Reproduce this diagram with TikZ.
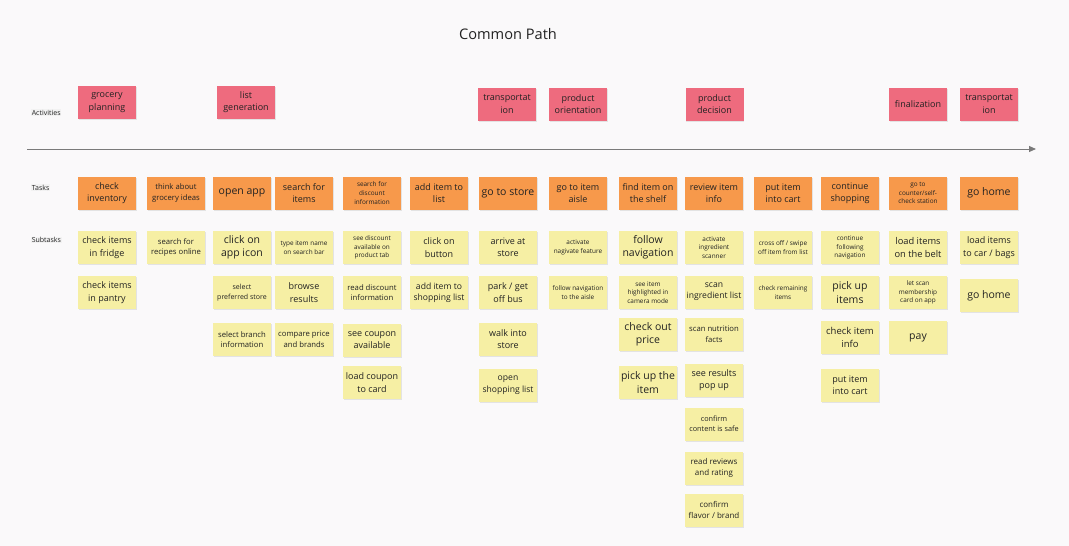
\documentclass[tikz,border=0pt]{standalone}
\usepackage{fontspec}
\setmainfont{Open Sans}
\usetikzlibrary{shadows,arrows.meta}
\definecolor{bgc}{HTML}{FAF9FA}
\definecolor{actc}{HTML}{EE6B7E}
\definecolor{taskc}{HTML}{F7994B}
\definecolor{subc}{HTML}{F6EFA4}
\definecolor{txt}{HTML}{222222}
\definecolor{axis}{HTML}{7A7A7A}
\tikzset{
  card/.style={minimum width=58pt, minimum height=33pt, inner sep=1pt, align=center, text=txt,
    drop shadow={shadow xshift=0.6pt, shadow yshift=-1.2pt, opacity=0.18}},
  act/.style={card, fill=actc},
  task/.style={card, fill=taskc},
  sub/.style={card, fill=subc},
  fS/.style={font=\fontsize{6.4}{8.6}\selectfont},
  fM/.style={font=\fontsize{7.7}{10.6}\selectfont},
  fL/.style={font=\fontsize{9}{12.4}\selectfont},
  fX/.style={font=\fontsize{10.5}{13.4}\selectfont},
  rowlabel/.style={font=\fontsize{7}{8}\selectfont, text=txt, fill=black!5, inner sep=0.6pt, anchor=west},
}
\begin{document}
\begin{tikzpicture}[x=1pt,y=-1pt]
\fill[bgc] (0,0) rectangle (1069,546);
\useasboundingbox (0,0) rectangle (1069,546);

\node[font=\fontsize{14.6}{16}\selectfont, text=txt] (title) at (508,34) {Common Path};

\node[rowlabel] (lact) at (31,112.5) {Activities};
\node[rowlabel] (ltask) at (31,187.5) {Tasks};
\node[rowlabel] (lsub) at (31,240) {Subtasks};

\coordinate (axstart) at (27,149);
\coordinate (axend) at (1036,149);
\draw[axis, line width=1pt, -{Triangle[length=7pt,width=6pt]}] (axstart) -- (axend);

% Activities
\node[act,fL] (a1) at (107,102.5) {grocery\\planning};
\node[act,fL] (a2) at (246,102) {list\\generation};
\node[act,fL] (a3) at (507,104) {transportat\\ion};
\node[act,fL] (a4) at (578,104) {product\\orientation};
\node[act,fL] (a5) at (714.5,104) {product\\decision};
\node[act,fL] (a6) at (918,104) {finalization};
\node[act,fL] (a7) at (989,104) {transportat\\ion};

% Tasks
\node[task,fL] (t1) at (107,193) {check\\inventory};
\node[task,fM] (t2) at (176,193) {think about\\grocery ideas};
\node[task,fX] (t3) at (242,193) {open app};
\node[task,fL] (t4) at (304,193) {search for\\items};
\node[task,fS] (t5) at (372,193) {search for\\discount\\information};
\node[task,fL] (t6) at (439,193) {add item to\\list};
\node[task,fX] (t7) at (508,193) {go to store};
\node[task,fL] (t8) at (578,193) {go to item\\aisle};
\node[task,fL] (t9) at (648,193) {find item on\\the shelf};
\node[task,fL] (t10) at (714,193) {review item\\info};
\node[task,fL] (t11) at (783,193) {put item\\into cart};
\node[task,fL] (t12) at (850,193) {continue\\shopping};
\node[task,fS] (t13) at (918,193) {go to\\counter/self-\\check station};
\node[task,fX] (t14) at (989,193) {go home};

% Subtasks column 1
\node[sub,fL] (s1a) at (107,247.5) {check items\\in fridge};
\node[sub,fL] (s1b) at (107,292.5) {check items\\in pantry};
% column 2
\node[sub,fM] (s2a) at (176,247.5) {search for\\recipes online};
% column 3
\node[sub,fX] (s3a) at (242,247.5) {click on\\app icon};
\node[sub,fS,font=\fontsize{7}{9.6}\selectfont] (s3b) at (242,292.5) {select\\preferred store};
\node[sub,fM] (s3c) at (242,339.5) {select branch\\information};
% column 4
\node[sub,fS] (s4a) at (304,247.5) {type item name\\on search bar};
\node[sub,fL] (s4b) at (304,292.5) {browse\\results};
\node[sub,fM] (s4c) at (304,339.5) {compare price\\and brands};
% column 5
\node[sub,fS] (s5a) at (372,247.5) {see discount\\available on\\product tab};
\node[sub,fM] (s5b) at (372,292.5) {read discount\\information};
\node[sub,fL] (s5c) at (372,340) {see coupon\\available};
\node[sub,fL] (s5d) at (372,382.5) {load coupon\\to card};
% column 6
\node[sub,fL] (s6a) at (439,247.5) {click on\\button};
\node[sub,fL,font=\fontsize{8.6}{11.4}\selectfont] (s6b) at (439,292.5) {add item to\\shopping list};
% column 7
\node[sub,fL] (s7a) at (508,247.5) {arrive at\\store};
\node[sub,fL] (s7b) at (508,292.5) {park / get\\off bus};
\node[sub,fL] (s7c) at (508,339) {walk into\\store};
\node[sub,fL,font=\fontsize{8.6}{11.4}\selectfont] (s7d) at (508,385) {open\\shopping list};
% column 8
\node[sub,fS] (s8a) at (578,247.5) {activate\\nagivate feature};
\node[sub,fS] (s8b) at (578,292.5) {follow navigation\\to the aisle};
% column 9
\node[sub,fX] (s9a) at (648,247.5) {follow\\navigation};
\node[sub,fS] (s9b) at (648,292.5) {see item\\highlighted in\\camera mode};
\node[sub,fX] (s9c) at (648,334) {check out\\price};
\node[sub,fX] (s9d) at (648,382.5) {pick up the\\item};
% column 10
\node[sub,fS] (s10a) at (714,247.5) {activate\\ingredient\\scanner};
\node[sub,fL,font=\fontsize{8.6}{11}\selectfont] (s10b) at (714,292) {scan\\ingredient list};
\node[sub,fM] (s10c) at (714,334) {scan nutrition\\facts};
\node[sub,fL] (s10d) at (714,380) {see results\\pop up};
\node[sub,fM,font=\fontsize{7.3}{10.3}\selectfont] (s10e) at (714,424) {confirm\\content is safe};
\node[sub,fM,font=\fontsize{8}{10.7}\selectfont] (s10f) at (714,468) {read reviews\\and rating};
\node[sub,fM,font=\fontsize{8}{11.2}\selectfont] (s10g) at (714,510) {confirm\\flavor / brand};
% column 11
\node[sub,fS] (s11a) at (783,247.5) {cross off / swipe\\off item from list};
\node[sub,fS] (s11b) at (783,292.5) {check remaining\\items};
% column 12
\node[sub,fS] (s12a) at (850,247.5) {continue\\following\\navigation};
\node[sub,fX] (s12b) at (850,292.5) {pick up\\items};
\node[sub,fL,font=\fontsize{9.5}{12.7}\selectfont] (s12c) at (850,337.5) {check item\\info};
\node[sub,fL] (s12d) at (850,385) {put item\\into cart};
% column 13
\node[sub,fL,font=\fontsize{9.3}{12.5}\selectfont] (s13a) at (918,247.5) {load items\\on the belt};
\node[sub,fS] (s13b) at (918,292.5) {let scan\\membership\\card on app};
\node[sub,fX] (s13c) at (918,337.5) {pay};
% column 14
\node[sub,fL] (s14a) at (989,247.5) {load items\\to car / bags};
\node[sub,fX] (s14b) at (989,295.5) {go home};
\end{tikzpicture}
\end{document}
